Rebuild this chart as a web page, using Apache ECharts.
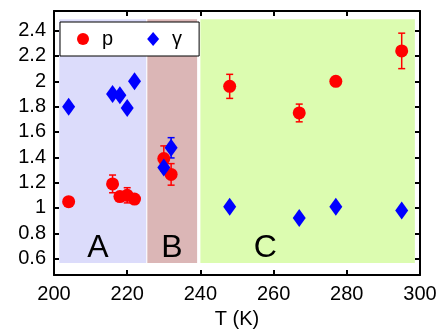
<!DOCTYPE html>
<html><head><meta charset="utf-8">
<script src="https://cdn.jsdelivr.net/npm/echarts@6/dist/echarts.min.js"></script>
<style>html,body{margin:0;padding:0;background:#fff}#c{width:441px;height:334px}</style>
</head><body><div id="c"></div>
<script>
// Data
const temps = [204, 216, 218, 220, 222, 230, 232, 248, 267, 277, 295];
const pValues = [1.05, 1.19, 1.09, 1.10, 1.07, 1.39, 1.265, 1.96, 1.75, 2.00, 2.24];
const pErrors = [0.01, 0.07, 0.02, 0.06, 0.02, 0.10, 0.085, 0.095, 0.07, 0.0, 0.14];
const gValues = [1.80, 1.90, 1.89, 1.79, 2.00, 1.32, 1.475, 1.01, 0.92, 1.01, 0.98];
const gErrors = [0, 0, 0, 0, 0, 0, 0.08, 0, 0, 0, 0];
const xTicks = [200, 220, 240, 260, 280, 300];
const yTicks = [0.6, 0.8, 1, 1.2, 1.4, 1.6, 1.8, 2, 2.2, 2.4];
const regions = [
  {name: 'A', x0: 201.45, x1: 225.2, color: '#dcdcfb', labelX: 212.0},
  {name: 'B', x0: 225.5, x1: 239.1, color: '#dbb6b6', labelX: 232.2},
  {name: 'C', x0: 240.0, x1: 298.6, color: '#dcfcb0', labelX: 257.7}
];
const regionY = [0.566, 2.49];
const labelY = 0.68;

const font = 'Liberation Sans, Arial, Helvetica, sans-serif';
const chart = echarts.init(document.getElementById('c'), null, {renderer: 'canvas'});

function errSeries(name, values, errors, color) {
  return {
    type: 'custom', name: name + '_err', z: 3,
    data: temps.map((t, i) => [t, values[i], errors[i]]),
    renderItem: function (params, api) {
      const x = api.value(0), y = api.value(1), e = api.value(2);
      const top = api.coord([x, y + e]);
      const bot = api.coord([x, y - e]);
      const w = 3.5;
      const st = {stroke: color, lineWidth: 1.5};
      return {type: 'group', children: [
        {type: 'line', shape: {x1: top[0], y1: top[1], x2: bot[0], y2: bot[1]}, style: st},
        {type: 'line', shape: {x1: top[0] - w, y1: top[1], x2: top[0] + w, y2: top[1]}, style: st},
        {type: 'line', shape: {x1: bot[0] - w, y1: bot[1], x2: bot[0] + w, y2: bot[1]}, style: st}
      ]};
    },
    silent: true
  };
}

const axisLineStyle = {color: '#000', width: 2};
chart.setOption({
  animation: false,
  backgroundColor: '#fff',
  textStyle: {fontFamily: font},
  grid: {left: 54, right: 21, top: 11, bottom: 52},
  legend: {
    data: [{name: 'p', icon: 'circle'}, {name: 'γ', icon: 'diamond'}],
    left: 60, top: 22,
    padding: [7, 17, 7, 17],
    itemGap: 34,
    itemWidth: 12, itemHeight: 14,
    borderColor: '#000', borderWidth: 1, borderRadius: 0,
    backgroundColor: '#fff',
    textStyle: {fontSize: 20, color: '#000', fontFamily: font, padding: [0, 0, 0, 8]}
  },
  xAxis: [{
    type: 'value', position: 'bottom', min: 200, max: 300, interval: 20,
    name: 'T (K)', nameLocation: 'middle', nameGap: 31,
    nameTextStyle: {fontSize: 20, color: '#000', fontFamily: font},
    axisLine: {show: true, onZero: false, lineStyle: axisLineStyle},
    axisTick: {show: true, inside: true, length: 5, lineStyle: {color: '#000', width: 2}},
    axisLabel: {fontSize: 20, color: '#000', margin: 9, fontFamily: font},
    splitLine: {show: false}
  }, {
    type: 'value', position: 'top', min: 200, max: 300, interval: 20,
    axisLine: {show: true, onZero: false, lineStyle: axisLineStyle},
    axisTick: {show: true, inside: true, length: 5, lineStyle: {color: '#000', width: 2}},
    axisLabel: {show: false}, splitLine: {show: false}
  }],
  yAxis: [{
    type: 'value', position: 'left', min: 0.47, max: 2.555,
    axisLine: {show: true, onZero: false, lineStyle: axisLineStyle},
    axisTick: {show: true, inside: true, length: 5, customValues: yTicks, lineStyle: {color: '#000', width: 2}},
    axisLabel: {fontSize: 20, color: '#000', margin: 8, customValues: yTicks, fontFamily: font,
      formatter: v => String(Math.round(v * 10) / 10)},
    splitLine: {show: false}
  }, {
    type: 'value', position: 'right', min: 0.47, max: 2.555,
    axisLine: {show: true, onZero: false, lineStyle: axisLineStyle},
    axisTick: {show: true, inside: true, length: 5, customValues: yTicks, lineStyle: {color: '#000', width: 2}},
    axisLabel: {show: false}, splitLine: {show: false}
  }],
  series: [
    {
      type: 'scatter', name: 'regions', data: [], z: 1, silent: true,
      markArea: {
        silent: true,
        data: regions.map(r => [
          {xAxis: r.x0, yAxis: regionY[0], itemStyle: {color: r.color, opacity: 1}},
          {xAxis: r.x1, yAxis: regionY[1]}
        ])
      },
      markPoint: {
        silent: true, symbol: 'circle', symbolSize: 0,
        label: {show: true, position: 'inside', fontSize: 32, color: '#000', fontFamily: font,
          formatter: p => p.name},
        data: regions.map(r => ({name: r.name, coord: [r.labelX, labelY]}))
      }
    },
    errSeries('p', pValues, pErrors, '#ff0000'),
    errSeries('γ', gValues, gErrors, '#0000ff'),
    {
      type: 'scatter', name: 'p', symbol: 'circle', symbolSize: 13, z: 4,
      itemStyle: {color: '#ff0000', opacity: 1},
      data: temps.map((t, i) => [t, pValues[i]])
    },
    {
      type: 'scatter', name: 'γ', symbol: 'diamond', symbolSize: [13, 18], z: 5,
      itemStyle: {color: '#0000ff', opacity: 1},
      data: temps.map((t, i) => [t, gValues[i]])
    }
  ]
});
</script></body></html>
